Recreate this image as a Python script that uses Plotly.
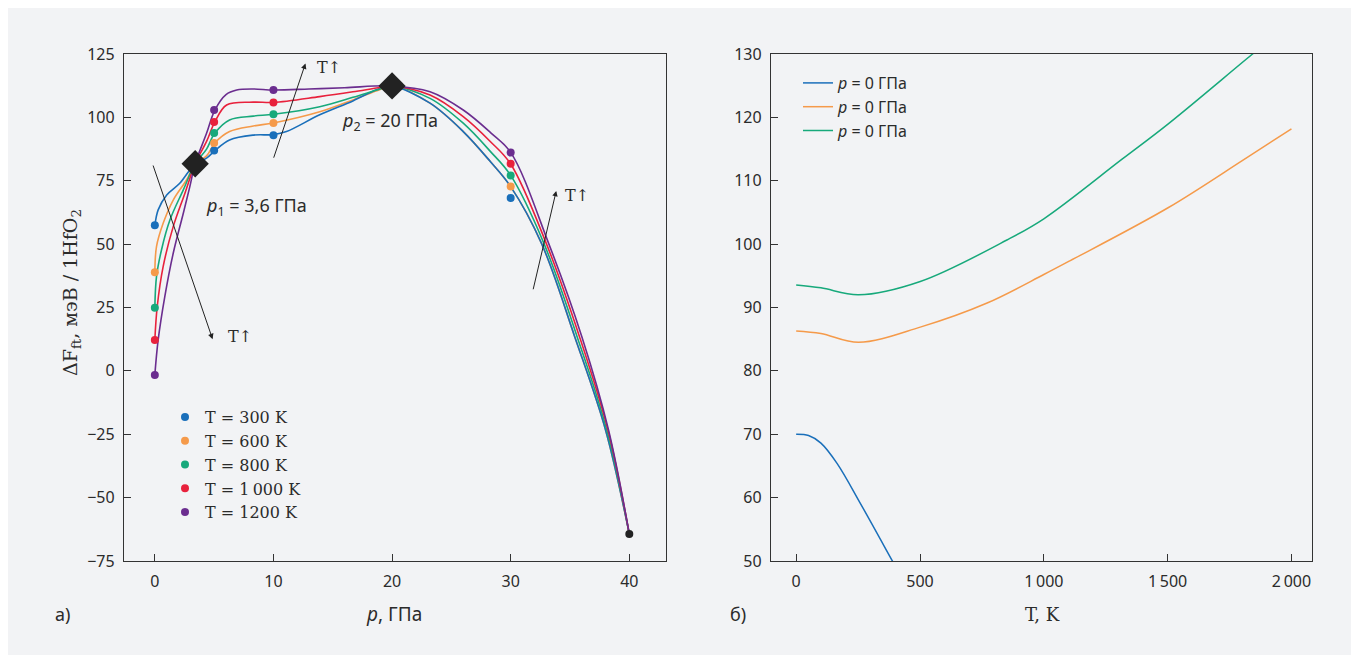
import plotly.graph_objects as go

W, H = 1359, 657
OFF = 8  # page body offset of the rendered figure
BG = "#f2f3f5"
INK = "#2b2b2b"
SANS = "Noto Sans"
SERIF = "DejaVu Serif"

COLORS = ["#1a6fba", "#f59a4a", "#17a97b", "#e8213c", "#6b2d8f"]
T_LABELS = ["T = 300 K", "T = 600 K", "T = 800 K", "T = 1\u2009000 K", "T = 1200 K"]

# ---- panel a: curves (pressure GPa, ΔF meV) ----
P_300 = [0, 0.28, 1.0, 2.1, 3.4, 4.36, 5.06, 6.3, 8.3, 10, 11.1, 13.9, 16.7, 19, 20,
         23.2, 26, 28.3, 30, 32.6, 35.4, 38, 40]
F_300 = [57.3, 63.5, 69.4, 74, 81.7, 83.9, 86.9, 91.1, 93, 93.2, 94.4, 101, 106.5, 111.5, 112.4,
         105.6, 94.4, 82.5, 72.7, 50.3, 13.5, -23.3, -64.3]
P_600 = [0, 0.14, 0.7, 1.55, 2.67, 3.4, 4.36, 5.06, 6.3, 8.3, 10, 13.9, 16.7, 19, 20,
         23.2, 26, 28.3, 30, 32.6, 35.4, 38, 40]
F_600 = [38.9, 49, 58.2, 67.4, 75.3, 81.7, 84.8, 89.9, 94.4, 96.6, 97.8, 102.2, 106.9, 111, 112.4,
         105.6, 94.4, 82.5, 72.7, 50.3, 13.5, -23.3, -64.3]
P_800 = [0, 0.14, 0.56, 1.27, 2.4, 3.4, 4.36, 5.06, 6.3, 8.3, 10, 13.9, 16.7, 19, 20,
         23.2, 26, 28.3, 30, 32.8, 35.6, 38.1, 40]
F_800 = [24.9, 37.2, 47.7, 59.5, 71.4, 81.7, 87.5, 93.8, 99, 100.5, 101.2, 104.2, 107.9, 111.2, 112.4,
         107.5, 97.7, 86.5, 77.1, 50.3, 13.5, -23.3, -64.3]
P_1000 = [0, 0.2, 0.7, 1.55, 2.53, 3.4, 4.36, 5.06, 6.05, 8.3, 10, 13.9, 16.7, 19, 20,
          23.2, 26, 28.3, 30, 33.0, 35.8, 38.2, 40]
F_1000 = [12.2, 25.3, 41.1, 56.9, 70, 81.7, 90.5, 98.2, 104.9, 106, 105.9, 108.2, 110.1, 111.8, 112.4,
          108.8, 100.3, 90.4, 81.6, 50.3, 13.5, -23.3, -64.3]
P_1200 = [0, 0.28, 0.84, 1.55, 2.4, 2.95, 3.4, 4.36, 5.06, 6.0, 6.9, 8.3, 10, 13, 16, 20,
          23.2, 26, 28.3, 30, 33.2, 36, 38.25, 40]
F_1200 = [-1.6, 12.2, 29.3, 46.4, 62.2, 72.7, 81.7, 93.7, 102.9, 109.0, 110.8, 111.2, 110.8, 111.2, 111.7, 112.4,
          110.1, 102.9, 94, 86.2, 50.3, 13.5, -23.3, -64.3]

# ---- panel a: marked points ----
DOT_P = [0, 5, 10, 30]
DOT_300 = [57.4, 86.9, 92.9, 68.2]
DOT_600 = [38.9, 89.9, 97.8, 72.7]
DOT_800 = [24.9, 93.8, 101.2, 77.1]
DOT_1000 = [12.2, 98.2, 105.9, 81.7]
DOT_1200 = [-1.6, 102.9, 110.8, 86.1]
DIAMOND_P = [3.4, 20]
DIAMOND_F = [81.7, 112.4]
END_P = [40]
END_F = [-64.3]

# ---- panel b: ΔF vs temperature ----
T_B1 = [0, 50, 100, 165, 259, 390, 420]
F_B1 = [70, 69.8, 68.6, 65.4, 59.1, 49.9, 47.8]
T_B2 = [0, 100, 252, 501, 771, 1000, 1107, 1500, 1806, 2000]
F_B2 = [86.3, 85.9, 84.5, 86.9, 90.7, 95.2, 97.4, 105.7, 113.3, 118.2]
T_B3 = [0, 100, 252, 501, 851, 1000, 1316, 1500, 1843, 2000]
F_B3 = [93.55, 93.1, 92.0, 94.1, 100.65, 104, 113.4, 118.9, 130, 135]
B_NAME = "<i>p</i> = 0 ГПа"

LEFT_YTICKS = [-75, -50, -25, 0, 25, 50, 75, 100, 125]
LEFT_XTICKS = [0, 10, 20, 30, 40]
RIGHT_XTICKS = [0, 500, 1000, 1500, 2000]
RIGHT_XTEXT = ["0", "500", "1\u2009000", "1\u2009500", "2\u2009000"]
RIGHT_YTICKS = [50, 60, 70, 80, 90, 100, 110, 120, 130]


def px(x):
    return (x - OFF) / W


def py(y):
    return 1 - (y - OFF) / H


fig = go.Figure()

curves = [(P_300, F_300), (P_600, F_600), (P_800, F_800), (P_1000, F_1000), (P_1200, F_1200)]
draw_order = [1, 0, 2, 3, 4]
for i in draw_order:
    p, f = curves[i]
    fig.add_trace(go.Scatter(x=p, y=f, mode="lines", line=dict(color=COLORS[i], width=1.6, shape="spline", smoothing=1.0),
                             showlegend=False, hoverinfo="skip", xaxis="x", yaxis="y"))

dots = [DOT_300, DOT_600, DOT_800, DOT_1000, DOT_1200]
for i, d in enumerate(dots):
    fig.add_trace(go.Scatter(x=DOT_P, y=d, mode="markers", name=T_LABELS[i],
                             marker=dict(color=COLORS[i], size=8), legend="legend", xaxis="x", yaxis="y"))

fig.add_trace(go.Scatter(x=DIAMOND_P, y=DIAMOND_F, mode="markers", showlegend=False,
                         marker=dict(symbol="diamond", size=21, color="#222222"), xaxis="x", yaxis="y"))
fig.add_trace(go.Scatter(x=END_P, y=END_F, mode="markers", showlegend=False,
                         marker=dict(size=8, color="#222222"), xaxis="x", yaxis="y"))

for t, f, c in [(T_B1, F_B1, COLORS[0]), (T_B2, F_B2, COLORS[1]), (T_B3, F_B3, COLORS[2])]:
    fig.add_trace(go.Scatter(x=t, y=f, mode="lines", name=B_NAME, line=dict(color=c, width=1.5, shape="spline"),
                             legend="legend2", xaxis="x2", yaxis="y2"))

axis_common = dict(showline=True, linecolor="#333333", linewidth=1.3, mirror=True, ticks="inside", ticklen=7,
                   tickcolor="#333333", tickwidth=1, showgrid=False, zeroline=False, automargin=False,
                   tickfont=dict(family=SANS, size=16, color=INK))

fig.update_layout(
    width=W, height=H,
    margin=dict(l=0, r=0, t=0, b=0, pad=0, autoexpand=False),
    paper_bgcolor="white", plot_bgcolor="rgba(0,0,0,0)",
    xaxis=dict(domain=[px(124), px(665.7)], range=[-2.6, 43.07], tickvals=LEFT_XTICKS, anchor="y",
               ticklabelstandoff=6, **axis_common),
    yaxis=dict(domain=[py(561), py(54)], range=[-75, 125], tickvals=LEFT_YTICKS,
               ticktext=[("\u2212" + str(-v)) if v < 0 else str(v) for v in LEFT_YTICKS], anchor="x",
               ticklabelstandoff=5, **axis_common),
    xaxis2=dict(domain=[px(771), px(1312)], range=[-101.7, 2083], tickvals=RIGHT_XTICKS, ticktext=RIGHT_XTEXT,
                anchor="y2", ticklabelstandoff=6, **axis_common),
    yaxis2=dict(domain=[py(561), py(54)], range=[50, 130], tickvals=RIGHT_YTICKS, anchor="x2",
                ticklabelstandoff=5, **axis_common),
    legend=dict(x=px(165), y=py(400), xanchor="left", yanchor="top", bgcolor="rgba(0,0,0,0)",
                font=dict(family=SERIF, size=16, color=INK), tracegroupgap=0),
    legend2=dict(x=px(798), y=py(66), xanchor="left", yanchor="top", bgcolor="rgba(0,0,0,0)",
                 font=dict(family=SANS, size=16, color=INK), tracegroupgap=0),
    shapes=[dict(type="rect", xref="paper", yref="paper", x0=px(8), x1=px(1355), y0=py(655), y1=1,
                 fillcolor=BG, line=dict(width=0), layer="below")],
)

ann = []
# arrows with T↑ labels (data coords)
for (hx, hy, tx, ty, lx, ly) in [(4.87, 12.5, -0.19, 81.6, 6.0, 13.4),
                                  (12.7, 121.3, 9.98, 83.5, 13.5, 119.5),
                                  (33.84, 71.0, 31.87, 31.6, 34.4, 69.0)]:
    ann.append(dict(x=hx, y=hy, ax=tx, ay=ty, xref="x", yref="y", axref="x", ayref="y", text="",
                    showarrow=True, arrowhead=2, arrowsize=1.1, arrowwidth=1, arrowcolor="#222222"))
    ann.append(dict(x=lx, y=ly, xref="x", yref="y", text="T\u2191", showarrow=False, xanchor="left",
                    font=dict(family=SERIF, size=16, color=INK)))


def label(x, y, text, family=SANS, size=16, angle=0):
    return dict(x=px(x), y=py(y), xref="paper", yref="paper", text=text, showarrow=False,
                xanchor="center", yanchor="middle", textangle=angle, font=dict(family=family, size=size, color=INK))


ann.append(label(256, 207, "<i>p</i><sub>1</sub> = 3,6 ГПа", size=18))
ann.append(label(390, 121, "<i>p</i><sub>2</sub> = 20 ГПа", size=18))
ann.append(label(71, 293, "\u0394F<sub>ft</sub>, мэВ / 1HfO<sub>2</sub>", family=SERIF, size=19, angle=-90))
ann.append(label(394, 614, "<i>p</i>, ГПа", size=19))
ann.append(label(62, 614, "а)", size=18))
ann.append(label(1042, 614, "T, K", family=SERIF, size=18))
ann.append(label(738, 614, "б)", size=18))
fig.update_layout(annotations=ann)

fig.write_html("out.html")
